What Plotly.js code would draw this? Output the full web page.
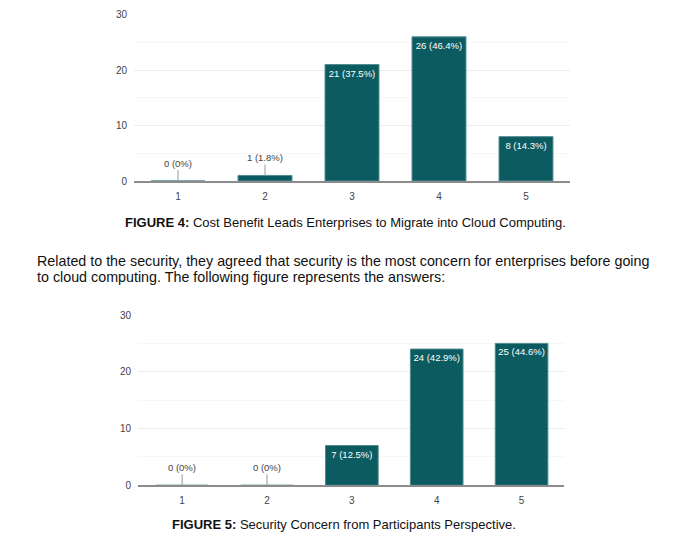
<!DOCTYPE html>
<html><head><meta charset="utf-8">
<script src="https://cdn.plot.ly/plotly-3.0.1.min.js"></script>
<style>html,body{margin:0;padding:0;background:#fff}#chart{width:681px;height:549px}</style>
</head><body><div id="chart"></div>
<script>
const categories = ['1','2','3','4','5'];
const costCounts = [0, 1, 21, 26, 8];
const costPercents = ['0', '1.8', '37.5', '46.4', '14.3'];
const securityCounts = [0, 0, 7, 24, 25];
const securityPercents = ['0', '0', '12.5', '42.9', '44.6'];
const yTicks = [0, 10, 20, 30];
const caption4 = '<b>FIGURE 4:</b> Cost Benefit Leads Enterprises to Migrate into Cloud Computing.';
const caption5 = '<b>FIGURE 5:</b> Security Concern from Participants Perspective.';
const paragraphLines = [
  'Related to the security, they agreed that security is the most concern for enterprises before going',
  'to cloud computing. The following figure represents the answers:'
];

const BAR = '#0b5b61';
const NARROW = '"Liberation Sans Narrow", "Arial Narrow", "Liberation Sans", Arial, sans-serif';
const SANS = '"Liberation Sans", Arial, sans-serif';
const SMALL = 3;

function labels(counts, pcts) { return counts.map((c, i) => c + ' (' + pcts[i] + '%)'); }

function barTrace(counts, pcts, xa, ya) {
  const lab = labels(counts, pcts);
  return {
    type: 'bar', x: categories, y: counts, xaxis: xa, yaxis: ya,
    width: 0.62,
    marker: {color: BAR, line: {color: '#4d8b90', width: 1}},
    text: lab.map((t, i) => counts[i] >= SMALL ? t : ''),
    textposition: 'inside', insidetextanchor: 'end', constraintext: 'none', textangle: 0,
    textfont: {family: NARROW, size: 9.5, color: '#ffffff'},
    hoverinfo: 'skip', showlegend: false
  };
}

function smallAnnots(counts, pcts, xref, yref) {
  const lab = labels(counts, pcts);
  const out = [];
  counts.forEach((c, i) => {
    if (c < SMALL) out.push({
      x: i, y: c, xref: xref, yref: yref, text: lab[i],
      showarrow: true, arrowhead: 0, arrowwidth: 1, arrowcolor: '#999',
      ax: 0, ay: -18, standoff: 0,
      font: {family: NARROW, size: 9.5, color: '#444'}
    });
  });
  return out;
}

const axisY = (domain) => ({
  domain: domain, range: [0, 30], tickvals: yTicks, ticks: '', showline: false,
  gridcolor: '#ececec', gridwidth: 1, zeroline: false,
  minor: {dtick: 5, showgrid: true, gridcolor: '#f6f6f6', gridwidth: 1},
  tickfont: {family: NARROW, size: 10, color: '#444'}, ticklabelstandoff: 6,
  fixedrange: true
});
const axisX = (domain, anchor) => ({
  domain: domain, anchor: anchor, type: 'category',
  showline: true, linecolor: '#8c8c8c', linewidth: 2, ticks: '', showgrid: false,
  tickfont: {family: NARROW, size: 10, color: '#444'}, ticklabelstandoff: 5,
  fixedrange: true
});

const W = 681, H = 549;
const layout = {
  width: W, height: H, margin: {l: 0, r: 0, t: 0, b: 0},
  paper_bgcolor: '#fff', plot_bgcolor: '#fff',
  xaxis: Object.assign(axisX([134 / W, 570 / W], 'y'), {range: [-0.506, 4.506]}),
  yaxis: Object.assign(axisY([1 - 181 / H, 1 - 14.7 / H]), {anchor: 'x'}),
  xaxis2: Object.assign(axisX([138 / W, 564 / W], 'y2'), {range: [-0.52, 4.5]}),
  yaxis2: Object.assign(axisY([1 - 485.3 / H, 1 - 315 / H]), {anchor: 'x2'}),
  annotations: [].concat(
    smallAnnots(costCounts, costPercents, 'x', 'y'),
    smallAnnots(securityCounts, securityPercents, 'x2', 'y2'),
    [
      {xref: 'paper', yref: 'paper', x: 346 / W, y: 1 - 222 / H, text: caption4, showarrow: false,
       xanchor: 'center', yanchor: 'middle', font: {family: SANS, size: 13, color: '#111'}},
      {xref: 'paper', yref: 'paper', x: 35 / W, y: 1 - 261 / H, text: paragraphLines[0], showarrow: false,
       xanchor: 'left', yanchor: 'middle', font: {family: SANS, size: 14.3, color: '#111'}},
      {xref: 'paper', yref: 'paper', x: 35 / W, y: 1 - 277 / H, text: paragraphLines[1], showarrow: false,
       xanchor: 'left', yanchor: 'middle', font: {family: SANS, size: 14.3, color: '#111'}},
      {xref: 'paper', yref: 'paper', x: 343.5 / W, y: 1 - 524 / H, text: caption5, showarrow: false,
       xanchor: 'center', yanchor: 'middle', font: {family: SANS, size: 13, color: '#111'}}
    ])
};

Plotly.newPlot('chart', [
  barTrace(costCounts, costPercents, 'x', 'y'),
  barTrace(securityCounts, securityPercents, 'x2', 'y2')
], layout, {staticPlot: true, displayModeBar: false});
</script></body></html>
